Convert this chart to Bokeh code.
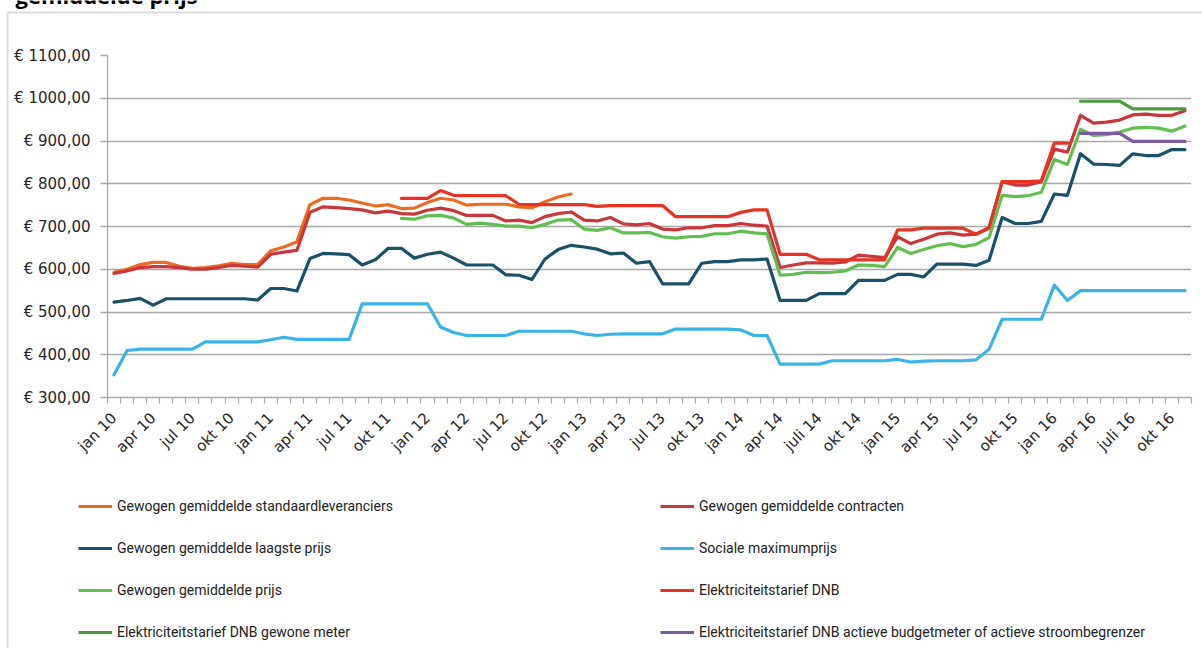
import math
from bokeh.plotting import figure
from bokeh.models import FixedTicker, Legend, LegendItem, BoxAnnotation, Label
from bokeh.embed import file_html
from bokeh.resources import INLINE

NaN = float("nan")

# ---------------- data ----------------
months = list(range(83))  # jan 2010 .. nov 2016

tick_positions = list(range(0, 82, 3))
tick_labels = ["jan 10", "apr 10", "jul 10", "okt 10", "jan 11", "apr 11", "jul 11", "okt 11",
               "jan 12", "apr 12", "jul 12", "okt 12", "jan 13", "apr 13", "jul 13", "okt 13",
               "jan 14", "apr 14", "juli 14", "okt 14", "jan 15", "apr 15", "jul 15", "okt 15",
               "jan 16", "apr 16", "juli 16", "okt 16"]

y_ticks = [300, 400, 500, 600, 700, 800, 900, 1000, 1100]
y_labels = ["€ 300,00", "€ 400,00", "€ 500,00", "€ 600,00", "€ 700,00", "€ 800,00",
            "€ 900,00", "€ 1000,00", "€ 1100,00"]

standaardleveranciers = [593, 600, 611, 616, 616, 607, 602, 604, 608, 614, 611, 611, 643, 652, 664,
                         751, 766, 766, 762, 755, 748, 751, 742, 743, 756, 766, 762, 750, 752, 752,
                         752, 746, 744, 758, 769, 776] + [NaN] * 47

contracten = [590, 596, 604, 606, 606, 604, 600, 600, 604, 609, 607, 605, 635, 640, 644, 733, 746,
              744, 742, 739, 732, 736, 730, 729, 738, 743, 737,
              726, 726, 726, 713, 715, 709, 723, 730, 734, 715, 713, 721, 706, 704, 707, 694, 692,
              697, 697, 702, 702, 707, 703, 701, 604, 610, 615, 615,
              614, 617, 633, 630, 627, 676, 660, 670, 682, 685, 680, 682, 696, 805, 797, 797, 805,
              881, 874, 960, 942, 944, 949, 961, 963, 960, 960, 971]

laagste_prijs = [523, 527, 532, 516, 531, 531, 531, 531, 531, 531, 531, 528, 555, 555, 549, 625,
                 637, 636, 634, 610, 622, 649, 649, 626, 635, 640, 626,
                 610, 610, 610, 587, 586, 576, 624, 646, 656, 652, 647, 636, 638, 614, 618, 566,
                 566, 566, 614, 618, 618, 622, 622, 624, 527, 527, 527, 543,
                 543, 543, 574, 574, 574, 588, 588, 582, 612, 612, 612, 609, 621, 721, 707, 707,
                 712, 776, 773, 870, 846, 845, 843, 870, 866, 866, 880, 880]

sociale_maximumprijs = [353, 410, 413, 413, 413, 413, 413, 430, 430, 430, 430, 430, 435, 441, 436,
                        436, 436, 436, 436, 519, 519, 519, 519, 519, 519, 465, 452,
                        445, 445, 445, 445, 455, 455, 455, 455, 455, 449, 445, 448, 449, 449, 449,
                        449, 460, 460, 460, 460, 460, 458, 445, 445, 378, 378, 378, 378,
                        386, 386, 386, 386, 386, 389, 383, 385, 386, 386, 386, 388, 413, 483, 483,
                        483, 483, 563, 527, 550, 550, 550, 550, 550, 550, 550, 550, 550]

gemiddelde_prijs = [NaN] * 22 + [719, 717, 725, 726, 720,
                    705, 708, 705, 701, 701, 697, 705, 715, 716, 694, 691, 697, 685, 685, 686,
                    676, 673, 676, 677, 683, 683, 689, 685, 683, 586, 588, 593, 592,
                    593, 596, 610, 609, 606, 651, 637, 646, 655, 660, 653, 658, 674, 773, 770,
                    772, 780, 857, 845, 927, 913, 915, 921, 930, 932, 930, 923, 935]

tarief_dnb = [NaN] * 22 + [766, 766, 766, 784, 773,
              772, 772, 772, 772, 752, 751, 751, 751, 751, 751, 747, 749, 749, 749, 749, 749,
              723, 723, 723, 723, 723, 733, 739, 739, 635, 635, 635, 622,
              622, 622, 622, 622, 622, 692, 692, 696, 696, 696, 696, 682, 698, 805, 805, 805,
              807, 895, 895] + [NaN] * 9

tarief_gewone_meter = [NaN] * 74 + [993, 993, 993, 993, 975, 975, 975, 975, 975]

tarief_budgetmeter = [NaN] * 74 + [918, 918, 918, 918, 899, 899, 899, 899, 899]

series_names = ["Gewogen gemiddelde standaardleveranciers", "Gewogen gemiddelde contracten",
                "Gewogen gemiddelde laagste prijs", "Sociale maximumprijs",
                "Gewogen gemiddelde prijs", "Elektriciteitstarief DNB",
                "Elektriciteitstarief DNB gewone meter",
                "Elektriciteitstarief DNB actieve budgetmeter of actieve stroombegrenzer"]
series_values = [standaardleveranciers, contracten, laagste_prijs, sociale_maximumprijs,
                 gemiddelde_prijs, tarief_dnb, tarief_gewone_meter, tarief_budgetmeter]
series_colors = ["#EC6B23", "#C9363C", "#1A5068", "#3BB3E8", "#63BE51", "#E63324",
                 "#4C9B41", "#7B5B9B"]

# ---------------- layout constants ----------------
W, H = 1202, 648
FRAME_L, FRAME_R, FRAME_T, FRAME_B = 107, 1191, 55, 397
GRID = "#A8A8A8"
LINE_W = 3.2

# ---------------- background (chart area, title, legend) ----------------
bg = figure(width=W, height=H, output_backend="svg", toolbar_location=None, title=None,
            x_range=(0, W), y_range=(H, 0), x_axis_type=None, y_axis_type=None,
            min_border=0)
bg.styles = {"position": "absolute", "left": "0px", "top": "0px"}
bg.grid.visible = False
bg.outline_line_color = None
bg.background_fill_color = "white"
bg.border_fill_color = "white"

bg.add_layout(BoxAnnotation(left=7, right=W + 50, top=12, bottom=H + 50,
                            fill_alpha=0, line_color="#8C8C8C", line_width=2))
bg.add_layout(Label(x=15, y=-6, text="gemiddelde prijs", text_font="Open Sans",
                    text_font_style="bold", text_font_size="22px", text_color="#000000",
                    text_baseline="alphabetic"))

# hidden copies of the series: they only feed the legend swatches
legend_renderers = []
for name, vals, color in zip(series_names, series_values, series_colors):
    r = bg.line(months, vals, line_width=LINE_W, line_color=color, visible=False)
    legend_renderers.append((name, r))


def make_legend(items, x_left):
    leg = Legend(items=[LegendItem(label=n, renderers=[r]) for n, r in items],
                 location=(x_left, H - 642), orientation="vertical",
                 border_line_color=None, background_fill_alpha=0, padding=0, margin=0,
                 spacing=22, glyph_width=34, glyph_height=20, label_height=20,
                 label_standoff=5, label_text_font="Roboto", label_text_font_size="14px",
                 label_text_color="#222222", inactive_fill_alpha=0)
    bg.add_layout(leg)


make_legend(legend_renderers[0::2], 78)
make_legend(legend_renderers[1::2], 660)

# ---------------- chart ----------------
p = figure(width=W, height=H, output_backend="svg", toolbar_location=None, title=None,
           x_range=(-0.5, 82.5), y_range=(300, 1100),
           min_border_left=FRAME_L, min_border_right=W - FRAME_R,
           min_border_top=FRAME_T, min_border_bottom=H - FRAME_B)
p.styles = {"position": "absolute", "left": "0px", "top": "0px"}
p.outline_line_color = None
p.background_fill_alpha = 0
p.border_fill_alpha = 0

p.xgrid.visible = False
p.ygrid.grid_line_color = GRID
p.ygrid.grid_line_width = 1.3

p.yaxis.ticker = FixedTicker(ticks=y_ticks)
p.yaxis.major_label_overrides = {t: l for t, l in zip(y_ticks, y_labels)}
p.yaxis.axis_line_color = GRID
p.yaxis.axis_line_width = 1.3
p.yaxis.major_tick_line_color = GRID
p.yaxis.major_tick_line_width = 1.3
p.yaxis.major_tick_out = 7
p.yaxis.major_tick_in = 0
p.yaxis.minor_tick_line_color = None
p.yaxis.major_label_standoff = 10
p.yaxis.major_label_text_font = "DejaVu Sans"
p.yaxis.major_label_text_font_size = "15px"
p.yaxis.major_label_text_color = "#262626"

p.xaxis.ticker = FixedTicker(ticks=tick_positions, minor_ticks=[i - 0.5 for i in range(84)])
p.xaxis.major_label_overrides = {t: l for t, l in zip(tick_positions, tick_labels)}
p.xaxis.major_label_orientation = math.pi / 4
p.xaxis.axis_line_color = GRID
p.xaxis.axis_line_width = 1.3
p.xaxis.major_tick_line_color = None
p.xaxis.major_tick_out = 6
p.xaxis.major_tick_in = 0
p.xaxis.minor_tick_line_color = GRID
p.xaxis.minor_tick_line_width = 1.2
p.xaxis.minor_tick_out = 6
p.xaxis.minor_tick_in = 0
p.xaxis.major_label_standoff = 12
p.xaxis.major_label_text_font = "DejaVu Sans"
p.xaxis.major_label_text_font_size = "15px"
p.xaxis.major_label_text_color = "#262626"

for vals, color in zip(series_values, series_colors):
    p.line(months, vals, line_width=LINE_W, line_color=color, line_join="round",
           line_cap="round")

open("out.html", "w").write(file_html([bg, p], INLINE))
